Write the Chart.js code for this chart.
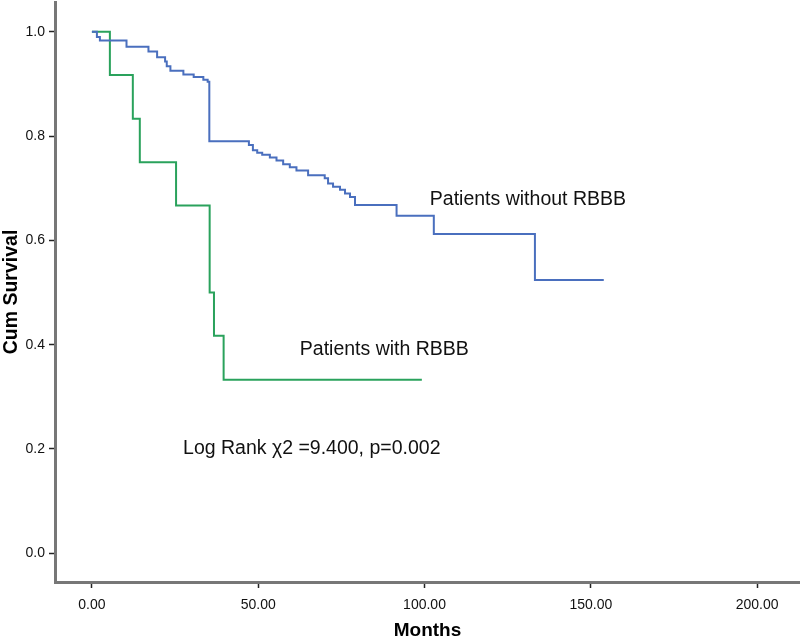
<!DOCTYPE html>
<html>
<head>
<meta charset="utf-8">
<script src="https://cdn.jsdelivr.net/npm/chart.js@4.4.0/dist/chart.umd.min.js"></script>
<style>
  html, body { margin: 0; padding: 0; background: #fff; }
  #wrap { width: 800px; height: 642px; }
</style>
</head>
<body>
<div id="wrap"><canvas id="kmChart"></canvas></div>
<script>
// Kaplan-Meier data (months, cumulative survival)
const withoutTimes = [0, 1.5, 2.4, 10.4, 17.0, 19.6, 22.0, 22.5, 23.6, 27.5, 30.6, 33.5, 34.8, 35.3,
  47.2, 48.4, 49.7, 51.2, 53.5, 55.5, 57.5, 59.5, 61.5, 65.0, 70.0, 71.0, 72.5, 74.6, 76.1, 77.6,
  79.1, 91.6, 102.8, 133.2, 153.9];
const withoutSurv = [1, 0.99, 0.983, 0.971, 0.962, 0.951, 0.943, 0.934, 0.925, 0.918, 0.913, 0.908, 0.904, 0.790,
  0.783, 0.773, 0.768, 0.764, 0.759, 0.753, 0.746, 0.740, 0.734, 0.725, 0.719, 0.709, 0.703, 0.697, 0.690, 0.683,
  0.668, 0.647, 0.612, 0.524, 0.524];

const withTimes = [0, 5.4, 12.3, 14.4, 25.3, 35.4, 36.7, 39.6, 99.2];
const withSurv = [1, 0.917, 0.833, 0.75, 0.667, 0.5, 0.417, 0.333, 0.333];

const xTicks = [0, 50, 100, 150, 200];
const yTicks = [0, 0.2, 0.4, 0.6, 0.8, 1.0];

// text labels placed in data coordinates
const notes = [
  { text: 'Patients without RBBB', x: 101.6, y: 0.679 },
  { text: 'Patients with RBBB', x: 62.5, y: 0.39 },
  { text: 'Log Rank \u03c72 =9.400, p=0.002', x: 27.4, y: 0.2 }
];

const toPoints = (xs, ys) => xs.map((x, i) => ({ x: x, y: ys[i] }));

const notesPlugin = {
  id: 'notes',
  afterDatasetsDraw(chart) {
    const c = chart.ctx;
    const sx = chart.scales.x, sy = chart.scales.y;
    c.save();
    c.font = '19.5px "Liberation Sans", Arial, sans-serif';
    c.fillStyle = '#111';
    c.textAlign = 'left';
    c.textBaseline = 'middle';
    notes.forEach(n => {
      c.fillText(n.text, sx.getPixelForValue(n.x), sy.getPixelForValue(n.y));
    });
    c.restore();
  }
};

const ctx = document.getElementById('kmChart').getContext('2d');
const kmChart = new Chart(ctx, {
  type: 'line',
  data: {
    datasets: [{
      label: 'Patients without RBBB',
      data: toPoints(withoutTimes, withoutSurv),
      borderColor: '#4a6fbe',
      borderWidth: 2,
      stepped: 'before',
      pointRadius: 0,
      fill: false
    }, {
      label: 'Patients with RBBB',
      data: toPoints(withTimes, withSurv),
      borderColor: '#2aa25c',
      borderWidth: 2,
      stepped: 'before',
      pointRadius: 0,
      fill: false
    }]
  },
  options: {
    responsive: true,
    maintainAspectRatio: false,
    animation: false,
    layout: { padding: { top: 2, right: 0, left: 0, bottom: 0 } },
    plugins: {
      legend: { display: false },
      tooltip: { enabled: false }
    },
    scales: {
      x: {
        type: 'linear',
        min: -11.1,
        max: 212.9,
        afterFit: (scale) => { scale.height = 60; scale.paddingLeft = 0; scale.paddingRight = 0; },
        afterBuildTicks: (scale) => { scale.ticks = xTicks.map(v => ({ value: v })); },
        border: { display: true, color: '#777', width: 3 },
        grid: { drawOnChartArea: false, color: '#222', tickLength: 6, tickWidth: 1.5 },
        ticks: {
          color: '#111',
          font: { family: '"Liberation Sans", Arial', size: 14 },
          padding: 9,
          maxRotation: 0,
          callback: (v) => v.toFixed(2)
        },
        title: {
          display: true,
          text: 'Months',
          color: '#000',
          font: { family: '"Liberation Sans", Arial', size: 19, weight: 'bold' },
          padding: { top: 0, bottom: 0 }
        }
      },
      y: {
        type: 'linear',
        min: -0.055,
        max: 1.057,
        afterFit: (scale) => { scale.width = 55; scale.paddingTop = 0; scale.paddingBottom = 0; },
        afterBuildTicks: (scale) => { scale.ticks = yTicks.map(v => ({ value: v })); },
        border: { display: true, color: '#777', width: 3 },
        grid: { drawOnChartArea: false, color: '#222', tickLength: 6, tickWidth: 1.5 },
        ticks: {
          color: '#111',
          font: { family: '"Liberation Sans", Arial', size: 14 },
          padding: 4,
          callback: (v) => v.toFixed(1)
        },
        title: {
          display: true,
          text: 'Cum Survival',
          color: '#000',
          font: { family: '"Liberation Sans", Arial', size: 19.5, weight: 'bold' },
          padding: { top: 0, bottom: 0 }
        }
      }
    }
  },
  plugins: [notesPlugin]
});
</script>
</body>
</html>
